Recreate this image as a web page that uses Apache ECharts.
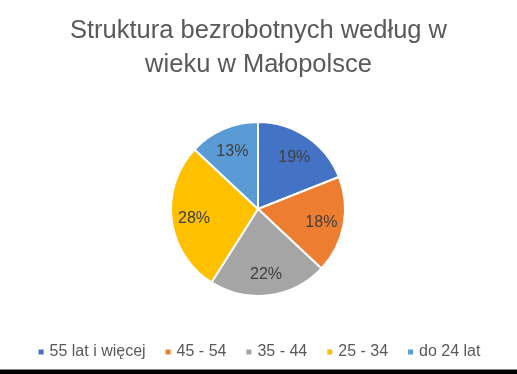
<!DOCTYPE html>
<html><head><meta charset="utf-8">
<script src="https://cdn.jsdelivr.net/npm/echarts@6/dist/echarts.min.js"></script>
<style>html,body{margin:0;padding:0;background:#fff}#c{width:517px;height:374px}</style>
</head><body><div id="c"></div>
<script>
const categories = ['55 lat i więcej', '45 - 54', '35 - 44', '25 - 34', 'do 24 lat'];
const values = [19, 18, 22, 28, 13];
const colors = ['#4472C4', '#ED7D31', '#A5A5A5', '#FFC000', '#5B9BD5'];
const titleText = 'Struktura bezrobotnych według w\nwieku w Małopolsce';

const chart = echarts.init(document.getElementById('c'), null, {renderer: 'canvas'});
const data = categories.map((n, i) => ({name: n, value: values[i]}));
chart.setOption({
  animation: false,
  color: colors,
  title: {
    text: titleText, left: 'center', top: 9,
    textStyle: {fontFamily: 'Liberation Sans', fontSize: 25.5, fontWeight: 'normal', color: '#595959', lineHeight: 34}
  },
  legend: {
    bottom: 9, left: 'center', icon: 'rect', itemWidth: 7, itemHeight: 7, itemGap: 18,
    textStyle: {fontFamily: 'Liberation Sans', fontSize: 16, color: '#595959'},
    data: categories
  },
  series: [{
    type: 'pie', radius: 87, center: [258, 209], startAngle: 90, clockwise: true,
    itemStyle: {borderColor: '#fff', borderWidth: 2},
    label: {show: false}, labelLine: {show: false},
    data: data
  }, {
    type: 'pie', radius: [36, 87], center: [258, 211], startAngle: 90, clockwise: true, silent: true,
    itemStyle: {color: 'rgba(0,0,0,0)'},
    label: {show: true, position: 'inside', formatter: '{c}%', fontFamily: 'Liberation Sans', fontSize: 16, color: '#404040'},
    labelLine: {show: false},
    legendHoverLink: false,
    data: data.map(d => ({name: d.name + ' ', value: d.value}))
  }],
  graphic: [
    {type: 'rect', shape: {x: 0, y: 369, width: 517, height: 1}, style: {fill: '#808080'}},
    {type: 'rect', shape: {x: 0, y: 370, width: 517, height: 4}, style: {fill: '#000'}}
  ]
});
</script></body></html>
